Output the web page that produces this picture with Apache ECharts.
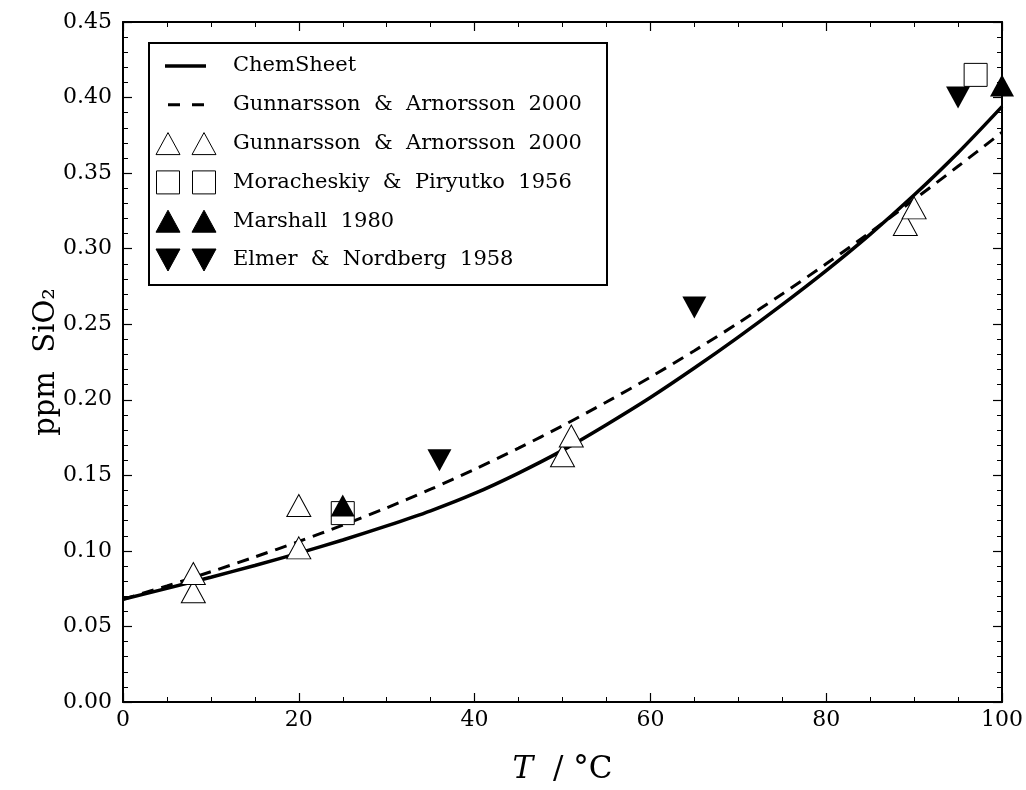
<!DOCTYPE html>
<html>
<head>
<meta charset="utf-8">
<script src="https://cdn.jsdelivr.net/npm/echarts@6/dist/echarts.min.js"></script>
<style>
  html, body { margin: 0; padding: 0; background: #fff; }
  #chart { width: 1026px; height: 790px; }
</style>
</head>
<body>
<div id="chart"></div>
<script>
// Temperature grid (°C) for the two solubility curves
const temps = [0, 5, 10, 15, 20, 25, 30, 35, 40, 45, 50, 55, 60, 65, 70, 75, 80, 85, 90, 95, 100];
// ChemSheet model (ppm SiO2)
const chemSheet = [0.068, 0.0752, 0.0826, 0.0903, 0.0985, 0.1072, 0.1165, 0.1265, 0.138, 0.1515, 0.1665,
                   0.1835, 0.2015, 0.221, 0.2415, 0.263, 0.2855, 0.3095, 0.3355, 0.3635, 0.394];
// Gunnarsson & Arnorsson 2000 fit (ppm SiO2)
const gaFit = [0.068, 0.0768, 0.0862, 0.096, 0.1062, 0.117, 0.1285, 0.1408, 0.154, 0.168, 0.1828,
               0.1985, 0.215, 0.2325, 0.2508, 0.27, 0.29, 0.3108, 0.3325, 0.3545, 0.377];

// Measured points
const gaT   = [8, 8, 20, 20, 50, 51, 89, 90];
const gaPpm = [0.073, 0.085, 0.130, 0.102, 0.163, 0.176, 0.316, 0.327];
const mpT   = [25, 97];
const mpPpm = [0.125, 0.415];
const marT   = [25, 100];
const marPpm = [0.130, 0.408];
const enT   = [36, 65, 95];
const enPpm = [0.160, 0.261, 0.400];

// Axis ticks
const xMin = 0, xMax = 100, xStep = 20;
const yMin = 0, yMax = 0.45, yStep = 0.05;

const legendNames = [
  'ChemSheet',
  'Gunnarsson  &  Arnorsson  2000',
  'Gunnarsson  &  Arnorsson  2000',
  'Moracheskiy  &  Piryutko  1956',
  'Marshall  1980',
  'Elmer  &  Nordberg  1958'
];

const serif = 'DejaVu Serif';
const pair = (xs, ys) => xs.map((x, i) => [x, ys[i]]);

function axisCommon(showLabels) {
  return {
    axisLine: { show: true, onZero: false, lineStyle: { color: '#000', width: 2 } },
    axisTick: { show: true, inside: true, length: 9, lineStyle: { color: '#000', width: 1.2 } },
    minorTick: { show: true, length: 5, lineStyle: { color: '#000', width: 1 } },
    splitLine: { show: false },
    axisLabel: { show: showLabels, color: '#000', fontFamily: serif, fontSize: 22 }
  };
}

const chart = echarts.init(document.getElementById('chart'));

// Legend drawn as a boxed panel in the upper-left of the plot
const lgX = 149, lgY = 43, lgW = 458, lgH = 242;
const rowY0 = 66, rowGap = 38.8, m1 = 168, m2 = 204, txtX = 233;
const legendEls = [{
  type: 'rect', shape: { x: lgX, y: lgY, width: lgW, height: lgH },
  style: { fill: '#fff', stroke: '#000', lineWidth: 2 }, z: 100
}];
function tri(cx, cy, up, fill) {
  const h = 11, w = 12;
  const pts = up ? [[cx, cy - h], [cx - w, cy + h], [cx + w, cy + h]]
                 : [[cx, cy + h], [cx - w, cy - h], [cx + w, cy - h]];
  return { type: 'polygon', shape: { points: pts }, z: 101,
           style: { fill: fill ? '#000' : '#fff', stroke: '#000', lineWidth: 1 } };
}
legendNames.forEach((name, i) => {
  const y = rowY0 + i * rowGap;
  if (i === 0) {
    legendEls.push({ type: 'line', shape: { x1: 165, y1: y, x2: 206, y2: y }, z: 101,
                     style: { stroke: '#000', lineWidth: 3.5 } });
  } else if (i === 1) {
    legendEls.push({ type: 'line', shape: { x1: 168, y1: y, x2: 204, y2: y }, z: 101,
                     style: { stroke: '#000', lineWidth: 3, lineDash: [12, 12] } });
  } else if (i === 2) {
    legendEls.push(tri(m1, y, true, false), tri(m2, y, true, false));
  } else if (i === 3) {
    [m1, m2].forEach(cx => legendEls.push({ type: 'rect', z: 101,
      shape: { x: cx - 11.5, y: y - 11.5, width: 23, height: 23 },
      style: { fill: '#fff', stroke: '#000', lineWidth: 1 } }));
  } else if (i === 4) {
    legendEls.push(tri(m1, y, true, true), tri(m2, y, true, true));
  } else {
    legendEls.push(tri(m1, y, false, true), tri(m2, y, false, true));
  }
  legendEls.push({ type: 'text', x: txtX, y: y, z: 101,
    style: { text: name, fill: '#000', font: '21px "DejaVu Serif"', textVerticalAlign: 'middle' } });
});

chart.setOption({
  animation: false,
  backgroundColor: '#fff',
  grid: { left: 123, right: 24, top: 22, bottom: 81, containLabel: false },
  xAxis: [
    Object.assign(axisCommon(true), {
      type: 'value', position: 'bottom', min: xMin, max: xMax, interval: xStep,
      minorTick: { show: true, splitNumber: 4, length: 5, lineStyle: { color: '#000', width: 1 } },
      name: '{it|T}  / °C', nameLocation: 'middle', nameGap: 52,
      nameTextStyle: { color: '#000', fontFamily: serif, fontSize: 31,
        rich: { it: { fontFamily: serif, fontStyle: 'italic', fontSize: 31, color: '#000' } } },
      axisLabel: { color: '#000', fontFamily: serif, fontSize: 22, margin: 7 }
    }),
    Object.assign(axisCommon(false), {
      type: 'value', position: 'top', min: xMin, max: xMax, interval: xStep,
      minorTick: { show: true, splitNumber: 4, length: 5, lineStyle: { color: '#000', width: 1 } }
    })
  ],
  yAxis: [
    Object.assign(axisCommon(true), {
      type: 'value', position: 'left', min: yMin, max: yMax, interval: yStep,
      minorTick: { show: true, splitNumber: 5, length: 5, lineStyle: { color: '#000', width: 1 } },
      name: 'ppm  SiO₂', nameLocation: 'middle', nameGap: 62, nameRotate: 90, nameMoveOverlap: false,
      nameTextStyle: { color: '#000', fontFamily: serif, fontSize: 29 },
      axisLabel: { color: '#000', fontFamily: serif, fontSize: 22, margin: 11,
                   formatter: v => v.toFixed(2) }
    }),
    Object.assign(axisCommon(false), {
      type: 'value', position: 'right', min: yMin, max: yMax, interval: yStep,
      minorTick: { show: true, splitNumber: 5, length: 5, lineStyle: { color: '#000', width: 1 } }
    })
  ],
  series: [
    { name: legendNames[0], type: 'line', data: pair(temps, chemSheet), smooth: 0.3,
      showSymbol: false, symbol: 'none', lineStyle: { color: '#000', width: 3.5 }, z: 2 },
    { name: legendNames[1], type: 'line', data: pair(temps, gaFit), smooth: 0.3,
      showSymbol: false, symbol: 'none', lineStyle: { color: '#000', width: 3, type: [12, 8] }, z: 2 },
    { name: legendNames[2], type: 'scatter', data: pair(gaT, gaPpm), symbol: 'triangle',
      symbolSize: [24, 22], itemStyle: { color: '#fff', borderColor: '#000', borderWidth: 1, opacity: 1 }, z: 3 },
    { name: legendNames[3], type: 'scatter', data: pair(mpT, mpPpm), symbol: 'rect',
      symbolSize: [23, 23], itemStyle: { color: '#fff', borderColor: '#000', borderWidth: 1, opacity: 1 }, z: 3 },
    { name: legendNames[4], type: 'scatter', data: pair(marT, marPpm), symbol: 'triangle',
      symbolSize: [24, 22], itemStyle: { color: '#000', opacity: 1 }, z: 4 },
    { name: legendNames[5], type: 'scatter', data: pair(enT, enPpm), symbol: 'triangle', symbolRotate: 180,
      symbolSize: [24, 22], itemStyle: { color: '#000', opacity: 1 }, z: 4 }
  ],
  graphic: legendEls
});
</script>
</body>
</html>
